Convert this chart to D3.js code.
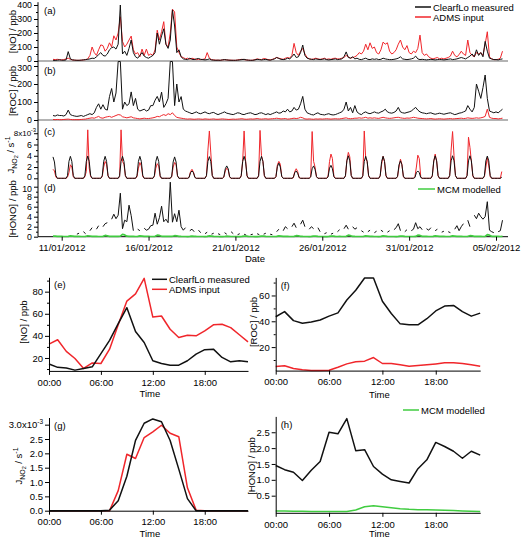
<!DOCTYPE html>
<html>
<head>
<meta charset="utf-8">
<script src="https://cdn.jsdelivr.net/npm/d3@7/dist/d3.min.js"></script>
<style>
html,body{margin:0;padding:0;background:#fff;}
svg{display:block;}
text{font-family:"Liberation Sans",Arial,Helvetica,sans-serif;font-size:9.5px;fill:#000;}
.topax text{font-size:8.8px;}
</style>
</head>
<body>
<svg id="chart" width="521" height="538"></svg>
<script>
// ---------------- DATA ----------------
// Time series: first sample 10/01/2012 12:00, 3-hourly (NO, ROC, HONO) or 2-hourly (J)
const noMeasured = [
 5,4,6,8,
 6,5,8,67,15,8,6,5,
 5,6,8,10,12,15,20,18,
 30,45,60,40,35,50,80,95,
 100,85,120,400,50,70,40,90,
 150,60,30,20,40,60,35,25,
 20,30,40,60,200,120,180,230,
 120,90,150,365,250,60,80,30,
 15,12,10,20,12,10,15,18,
 12,10,8,10,15,8,6,5,
 6,5,8,10,8,6,5,5,
 5,6,8,10,12,8,6,5,
 5,8,12,10,8,10,12,8,
 6,10,15,25,18,12,10,12,
 20,15,30,50,25,30,60,114,
 40,20,15,12,10,15,12,10,
 12,15,10,8,10,12,15,10,
 12,15,30,65,25,20,30,15,
 20,12,10,15,20,12,10,15,
 12,15,10,12,20,15,12,10,
 10,12,15,20,30,15,12,10,
 12,15,20,35,15,10,12,10,
 8,10,12,10,8,10,12,10,
 8,10,12,15,10,12,15,20,
 25,20,15,25,35,50,30,80,
 40,60,30,140,70,20,15,10,
 10,8,12,15
];
const noADMS = [
 12,10,12,10,
 8,10,15,20,12,8,6,5,
 5,6,8,10,15,40,100,60,
 40,80,115,110,70,90,130,100,
 180,150,200,316,140,100,120,150,
 178,80,50,60,30,85,40,85,
 40,50,40,80,220,150,210,281,
 120,100,200,370,350,100,60,30,
 25,15,20,12,20,15,10,12,
 10,12,15,60,20,10,8,6,
 6,5,8,10,8,6,6,5,
 5,8,10,12,10,8,6,5,
 6,10,15,12,10,18,15,10,
 8,12,18,25,20,15,12,20,
 25,20,40,126,60,40,70,90,
 50,25,15,12,15,20,15,12,
 15,20,12,15,12,18,20,15,
 15,20,25,40,30,20,25,30,
 40,60,50,70,120,80,130,90,
 100,60,50,80,135,120,130,70,
 50,60,80,120,150,100,80,110,
 60,50,70,60,90,185,60,40,
 50,30,20,15,20,25,15,20,
 15,20,25,35,70,40,30,45,
 70,50,40,150,60,40,30,60,
 50,60,40,120,209,30,15,10,
 10,12,20,70
];
const rocMeasured = [
 25,22,28,25,
 25,22,30,55,30,25,22,20,
 22,25,20,25,30,35,30,40,
 70,90,60,85,60,55,130,175,
 100,150,325,325,60,100,80,90,
 156,80,120,60,50,55,60,50,
 55,80,80,110,131,100,155,70,
 90,120,325,325,80,200,100,130,
 60,50,45,40,35,40,45,38,
 35,40,45,38,35,40,42,35,
 30,35,40,45,38,35,32,30,
 35,40,38,32,30,35,38,40,
 35,30,32,38,40,35,30,35,
 30,35,40,45,38,40,50,45,
 60,45,50,70,55,60,90,131,
 60,40,35,30,28,35,40,32,
 30,28,32,35,30,28,30,35,
 40,45,60,100,50,70,40,80,
 45,35,30,40,45,38,35,40,
 45,40,38,45,50,60,45,40,
 38,42,50,70,45,40,38,42,
 45,50,60,70,55,45,40,38,
 35,38,40,35,32,35,38,35,
 32,35,38,40,35,30,33,38,
 40,45,50,80,60,45,70,200,
 160,120,180,250,120,50,45,40,
 45,40,50,60
];
const rocADMS = [
 3,2,3,2,
 2,3,4,5,3,2,2,2,
 2,3,4,5,8,10,12,10,
 15,20,12,10,15,18,20,15,
 20,25,30,28,18,15,12,15,
 18,12,10,8,6,8,10,8,
 8,10,12,15,20,18,25,30,
 25,35,30,40,25,15,12,10,
 8,6,5,6,5,4,5,6,
 5,4,6,5,4,5,6,4,
 4,5,6,5,4,3,4,5,
 4,5,6,7,5,4,5,6,
 5,6,8,6,5,6,7,5,
 6,7,8,10,8,6,7,8,
 5,6,8,10,8,10,15,12,
 6,5,6,5,4,6,5,6,
 5,6,7,6,5,6,7,6,
 6,8,10,12,8,7,8,10,
 10,12,10,12,15,10,12,10,
 12,10,9,12,15,12,10,9,
 10,12,14,15,12,10,9,11,
 10,12,15,13,10,9,8,7,
 6,7,8,6,5,6,7,6,
 5,6,7,8,6,7,8,9,
 10,8,9,12,10,9,10,12,
 10,12,15,20,60,15,10,8,
 8,6,8,10
];
// J(NO2) in units of 1e-3 s^-1, 2-hourly
const jMeasured = [
 3.8,2.9,0.5,0,0,0,
 0,0,0,0,0.45,3.0,3.9,3.0,0.5,0,0,0,
 0,0,0,0,0.45,3.0,3.95,3.0,0.5,0,0,0,
 0,0,0,0,0.45,3.0,3.9,3.0,0.5,0,0,0,
 0,0,0,0,0.45,3.0,3.9,3.0,0.5,0,0,0,
 0,0,0,0,0.45,3.0,3.9,3.0,0.5,0,0,0,
 0,0,0,0,0.45,3.0,3.9,3.0,0.5,0,0,0,
 0,0,0,0,0.4,2.9,3.8,2.9,0.45,0,0,0,
 0,0,0,0,0.15,1.0,1.3,1.0,0.15,0,0,0,
 0,0,0,0,0.45,3.0,3.85,3.0,0.5,0,0,0,
 0,0,0,0,0.25,1.7,2.2,1.7,0.3,0,0,0,
 0,0,0,0,0.45,3.0,3.9,3.0,0.5,0,0,0,
 0,0,0,0,0.45,3.0,3.9,3.0,0.5,0,0,0,
 0,0,0,0,0.3,2.1,2.7,2.0,0.35,0,0,0,
 0,0,0,0,0.15,1.0,1.3,0.9,0.15,0,0,0,
 0,0,0,0,0.25,1.7,2.2,1.6,0.3,0,0,0,
 0,0,0,0,0.25,1.8,2.3,1.7,0.3,0,0,0,
 0,0,0,0,0.45,3.1,4.0,3.1,0.5,0,0,0,
 0,0,0,0,0.45,3.0,3.9,3.0,0.5,0,0,0,
 0,0,0,0,0.45,3.0,3.9,3.0,0.5,0,0,0,
 0,0,0,0,0.35,2.4,3.1,2.4,0.4,0,0,0,
 0,0,0,0,0.15,1.0,1.3,1.0,0.15,0,0,0,
 0,0,0,0,0.45,3.1,4.0,3.1,0.5,0,0,0,
 0,0,0,0,0.45,3.1,4.0,3.1,0.5,0,0,0,
 0,0,0,0,0.45,3.1,4.0,3.1,0.5,0,0,0,
 0,0,0,0,0.45,3.1,3.95,3.1,0.5,0,0,0,
 0,0,0,0,0.2
];
const jADMS = [
 1.6,1.3,0.2,0,0,0,
 0,0,0,0,0.2,1.0,2.4,2.0,0.3,0,0,0,
 0,0,0,0,0.3,1.2,8.6,1.8,0.3,0,0,0,
 0,0,0,0,0.3,2.0,3.0,2.5,0.4,0,0,0,
 0,0,0,0,0.3,8.6,3.0,2.5,0.4,0,0,0,
 0,0,0,0,0.3,1.8,2.8,2.2,0.3,0,0,0,
 0,0,0,0,0.3,1.8,2.6,2.2,0.3,0,0,0,
 0,0,0,0,0.3,2.0,2.8,2.4,0.4,0,0,0,
 0,0,0,0,0.2,1.2,1.6,1.1,0.2,0,0,0,
 0,0,0,0,0.5,5.0,8.4,4.5,0.5,0,0,0,
 0,0,0,0,0.2,1.3,1.8,1.5,0.2,0,0,0,
 0,0,0,0,0.4,3.0,8.4,3.2,0.4,0,0,0,
 0,0,0,0,0.4,8.5,4.0,3.0,0.4,0,0,0,
 0,0,0,0,0.3,2.4,3.0,2.5,0.3,0,0,0,
 0,0,0,0,0.1,1.2,1.7,1.2,0.1,0,0,0,
 0,0,0,0,0.3,8.3,3.0,2.0,0.3,0,0,0,
 0,0,0,0,0.4,3.0,4.3,3.5,0.4,0,0,0,
 0,0,0,0,0.4,3.2,4.6,3.8,0.5,0,0,0,
 0,0,0,0,0.4,8.4,3.5,3.0,0.4,0,0,0,
 0,0,0,0,0.4,2.5,3.9,3.0,0.4,0,0,0,
 0,0,0,0,0.3,2.0,3.4,2.5,0.3,0,0,0,
 0,0,0,0,0.3,2.0,4.1,3.5,0.3,0,0,0,
 0,0,0,0,0.4,3.0,4.3,3.0,0.4,0,0,0,
 0,0,0,0,0.5,5.0,8.3,4.0,0.5,0,0,0,
 0,0,0,0,0.5,7.3,5.5,3.0,0.4,0,0,0,
 0,0,0,0,0.3,2.0,3.7,2.2,0.3,0,0,0,
 0,0,0,0,1.2
];
const honoMeasured = [
 null,null,null,null,
 null,null,null,null,null,null,null,0.5,
 0.7,null,1.0,0.6,null,1.2,1.8,null,
 1.5,2.2,null,2.0,2.6,2.8,null,3.5,
 4.5,3.6,4.3,8.7,1.6,3.3,3.0,6.3,
 4.2,1.2,null,1.5,1.2,null,1.7,1.3,
 1.5,2.2,2.3,4.7,2.5,3.8,6.1,3.0,
 3.5,2.8,10.9,2.9,4.6,3.0,5.3,2.0,
 1.3,1.8,null,1.2,1.5,1.0,null,1.3,
 0.8,null,0.6,0.9,null,0.5,0.7,null,
 0.6,0.4,null,0.8,0.5,null,1.0,0.6,
 null,0.4,0.6,null,0.5,0.3,null,0.4,
 0.5,null,0.6,0.4,null,0.5,0.7,null,
 0.5,0.4,null,1.0,1.5,null,1.2,2.0,
 1.6,null,2.0,2.7,1.8,null,2.5,3.3,
 2.0,null,1.5,2.0,1.6,null,1.8,1.0,
 null,0.6,0.8,null,0.5,0.7,null,1.0,
 1.4,null,1.6,2.3,1.5,null,2.0,1.5,
 1.8,null,1.2,0.9,null,1.0,1.3,null,
 0.8,1.1,null,1.3,1.0,null,0.9,1.2,
 null,1.4,1.8,2.6,1.2,null,1.0,1.4,
 null,1.2,1.5,2.8,1.6,2.0,1.4,null,
 1.6,1.3,1.8,null,1.2,1.5,null,0.9,
 1.1,null,1.0,0.8,null,1.5,2.2,1.2,
 2.0,2.6,null,3.3,2.0,null,4.3,3.6,
 4.7,4.0,3.5,4.0,7.0,1.3,1.0,0.8,
 null,1.0,1.2,3.3
];
const honoMCM = [
 0.12,0.1,0.06,0.05,
 0.05,0.04,0.04,0.06,0.15,0.12,0.07,0.06,
 0.05,0.04,0.04,0.06,0.18,0.14,0.07,0.06,
 0.05,0.04,0.04,0.07,0.25,0.18,0.08,0.06,
 0.05,0.05,0.05,0.1,0.45,0.35,0.1,0.07,
 0.06,0.05,0.04,0.06,0.15,0.12,0.06,0.05,
 0.05,0.04,0.04,0.08,0.3,0.25,0.08,0.06,
 0.06,0.05,0.05,0.08,0.2,0.15,0.07,0.05,
 0.04,0.04,0.03,0.05,0.1,0.08,0.05,0.04,
 0.04,0.04,0.03,0.05,0.15,0.1,0.05,0.04,
 0.04,0.03,0.03,0.04,0.1,0.08,0.04,0.04,
 0.04,0.03,0.03,0.05,0.12,0.1,0.05,0.04,
 0.04,0.03,0.03,0.05,0.12,0.1,0.05,0.04,
 0.04,0.04,0.04,0.05,0.15,0.12,0.06,0.05,
 0.05,0.04,0.04,0.06,0.2,0.15,0.07,0.05,
 0.04,0.04,0.03,0.05,0.12,0.1,0.05,0.04,
 0.04,0.03,0.03,0.05,0.12,0.1,0.05,0.04,
 0.05,0.04,0.04,0.07,0.3,0.2,0.07,0.05,
 0.04,0.04,0.04,0.05,0.15,0.12,0.06,0.05,
 0.04,0.04,0.03,0.05,0.15,0.12,0.05,0.04,
 0.04,0.04,0.03,0.05,0.12,0.1,0.05,0.04,
 0.04,0.04,0.04,0.06,0.3,0.25,0.07,0.05,
 0.05,0.04,0.04,0.05,0.15,0.12,0.06,0.05,
 0.05,0.04,0.04,0.05,0.15,0.12,0.06,0.05,
 0.05,0.04,0.04,0.06,0.2,0.15,0.07,0.05,
 0.05,0.05,0.04,0.07,0.4,0.3,0.08,0.06,
 0.05,0.05,0.04,0.06
];
const dateTickLabels = ["2012-01-11","2012-01-16","2012-01-21","2012-01-26","2012-01-31","2012-02-05"];

// Mean diurnal profiles, hour of day
const hours = [0,1,2,3,4,5,6,7,8,9,10,11,12,13,14,15,16,17,18,19,20,21,22,23];
const hourTicks = [0,6,12,18];
const hourTickLabels = ["00:00","06:00","12:00","18:00"];
const noMeasuredDiurnal = [14.5,11.5,11,9,10.5,12,24,36,51,65.5,44,34,17.5,15,13.5,13.5,17.5,23.5,27.5,28,20.5,16.5,17.5,16.5];
const noADMSDiurnal = [32.5,36.5,26,19.5,10.5,15.5,15,28,50,71.5,78,92,57,58,46,38.5,40.5,40,44.5,50,50.5,47.5,41,34.5];
const rocMeasuredDiurnal = [43.5,47.5,40.5,38.5,39.5,41,44,46.5,56.5,64,73.5,73.5,55.5,46,38,37.3,37.3,42,48,51.8,52.3,47.5,44,46.3];
const rocADMSDiurnal = [5,5.5,3.4,2.4,1.9,1.9,2.1,4.4,7,8.6,9.1,11.9,7.3,7.3,6.3,5.2,5.7,6.3,7,7.8,7.8,7.3,6.3,5.2];
const jMeasuredDiurnal = [0,0,0,0,0,0,0,0.02,0.35,1.2,2.45,3.05,3.2,3.1,2.45,1.45,0.42,0,0,0,0,0,0,0];
const jADMSDiurnal = [0,0,0,0,0,0,0,0,0.7,1.97,1.82,2.55,2.75,2.98,2.7,2.58,0.8,0.02,0,0,0,0,0,0];
const honoMeasuredDiurnal = [1.45,1.32,1.24,0.98,1.3,1.58,2.5,2.45,2.93,1.92,1.95,1.42,1.18,1.0,0.95,0.9,1.35,1.63,2.18,2.05,1.9,1.68,1.9,1.78];
const honoMCMDiurnal = [0.02,0.02,0.01,0.01,0,0,0,0,0,0.05,0.15,0.18,0.15,0.12,0.09,0.07,0.06,0.06,0.05,0.04,0.03,0.02,0.01,0];

// ---------------- DRAWING ----------------
const RED = '#f0262b', BLACK = '#111', GREEN = '#40cc40', GREY = '#9a9a9a';
const svg = d3.select('#chart');
const START = Date.UTC(2012,0,10,12);
const stamp = (arr, step) => arr.map((v,i)=>({t:new Date(START + i*step*3600000), v}));

const X0 = 38, X1 = 508;
const xBase = d3.scaleUtc().domain([new Date(Date.UTC(2012,0,11)), new Date(Date.UTC(2012,1,5))]).range([61.7, 496]);
const xTime = d3.scaleUtc().domain([xBase.invert(X0), xBase.invert(X1)]).range([X0, X1]);

function cleanAxis(g){ g.attr('font-size',null).attr('font-family',null); }

const panels = [
 {y:d3.scaleLinear().domain([0,420]).range([61,2.2]), major:[0,100,200,300,400], minor:[50,150,250,350], zero:true, tag:'(a)', tagY:14,
  shift:{0:-2},
  series:[{d:stamp(noADMS,3),c:RED},{d:stamp(noMeasured,3),c:BLACK}]},
 {y:d3.scaleLinear().domain([0,325]).range([120,61.5]), major:[0,100,200,300], minor:[50,150,250], zero:true, tag:'(b)', tagY:73.5,
  shift:{300:1.5},
  series:[{d:stamp(rocMeasured,3),c:BLACK},{d:stamp(rocADMS,3),c:RED}]},
 {y:d3.scaleLinear().domain([0,9]).range([178.3,127.6]), major:[0,2,4,6,8], minor:[1,3,5,7], zero:false, tag:'(c)', tagY:134.5, sci:8,
  shift:{0:-1.5},
  series:[{d:stamp(jADMS,2),c:RED},{d:stamp(jMeasured,2),c:BLACK}]},
 {y:d3.scaleLinear().domain([0,11]).range([236.7,181.7]), major:[0,2,4,6,8,10], minor:[1,3,5,7,9], zero:false, tag:'(d)', tagY:191,
  shift:{10:1.5},
  series:[{d:stamp(honoMeasured,3),c:BLACK},{d:stamp(honoMCM,3),c:GREEN,w:1.7}]}
];

// bottom axis line for the stacked panels
svg.append('line').attr('x1',X0).attr('x2',X1).attr('y1',236.7).attr('y2',236.7).attr('stroke','#000').attr('stroke-width',1);

panels.forEach(p=>{
  const g = svg.append('g');
  if(p.zero){
    g.append('line').attr('x1',X0).attr('x2',X1).attr('y1',p.y(0)).attr('y2',p.y(0)).attr('stroke',GREY).attr('stroke-width',1.5);
  }
  p.series.forEach(s=>{
    const line = d3.line().defined(d=>d.v!=null).x(d=>xTime(d.t)).y(d=>p.y(d.v));
    g.append('path').datum(s.d).attr('d',line).attr('fill','none').attr('stroke',s.c).attr('stroke-width',s.w||1).attr('stroke-linejoin','round');
  });
  g.append('g').attr('transform',`translate(${X0},0)`)
    .call(d3.axisLeft(p.y).tickValues(p.minor).tickSize(2).tickFormat(''))
    .call(a=>a.select('.domain').remove()).call(cleanAxis);
  const ax = g.append('g').attr('class','topax').attr('transform',`translate(${X0},0)`)
    .call(d3.axisLeft(p.y).tickValues(p.major).tickSize(4).tickPadding(2))
    .call(a=>a.select('.domain').remove()).call(cleanAxis);
  if(p.shift){
    ax.selectAll('.tick').filter(d=>p.shift[d]!=null).select('text').attr('y',d=>p.shift[d]);
  }
  if(p.sci!=null){
    ax.selectAll('.tick').filter(d=>d===p.sci).select('text').each(function(){
      const t = d3.select(this); t.text('').attr('x',-2).style('font-size','8px');
      t.append('tspan').text(p.sci+'x10');
      t.append('tspan').attr('dy',-4).attr('dx',-0.5).attr('font-size','6px').text('-3');
    });
  }
  svg.append('text').attr('x',44).attr('y',p.tagY).text(p.tag);
});
// continuous left axis
svg.append('line').attr('x1',X0).attr('x2',X0).attr('y1',2.2).attr('y2',236.7).attr('stroke','#000');

// date axis
svg.append('g').attr('transform','translate(0,236.7)')
  .call(d3.axisBottom(xTime).tickValues(dateTickLabels.map(s=>new Date(s+'T00:00:00Z'))).tickSize(4).tickPadding(4).tickFormat(d3.utcFormat('%d/%m/%Y')))
  .call(a=>a.select('.domain').remove()).call(cleanAxis);
svg.append('text').attr('x',255).attr('y',262).attr('text-anchor','middle').text('Date');

// y titles (top stack)
function vtitle(x,y,txt){ return svg.append('text').attr('transform',`translate(${x},${y}) rotate(-90)`).attr('text-anchor','middle').text(txt); }
vtitle(16,31.5,'[NO] / ppb');
vtitle(16,91,'[ROC] / ppb');
function jTitle(x,y){
  const t = svg.append('text').attr('transform',`translate(${x},${y}) rotate(-90)`).attr('text-anchor','middle');
  t.append('tspan').text('J');
  t.append('tspan').attr('dy',2.5).attr('font-size','7px').text('NO');
  t.append('tspan').attr('dy',1.5).attr('font-size','5.5px').text('2');
  t.append('tspan').attr('dy',-4).text(' / s');
  t.append('tspan').attr('dy',-4).attr('font-size','7px').text('-1');
}
jTitle(14,155);
vtitle(16,209,'[HONO] / ppb');

// legends
function legend(x1,x2,y,color,label){
  svg.append('line').attr('x1',x1).attr('x2',x2).attr('y1',y).attr('y2',y).attr('stroke',color).attr('stroke-width',1.5);
  svg.append('text').attr('x',x2+2).attr('y',y+3.5).text(label);
}
legend(415,431,7,BLACK,'ClearfLo measured');
legend(415,431,17,RED,'ADMS input');
legend(418,435,189,GREEN,'MCM modelled');

// ---------- diurnal panels ----------
function diurnal(o){
  const g = svg.append('g');
  const x = d3.scaleLinear().domain([0,23]).range(o.xr);
  const y = d3.scaleLinear().domain(o.yd).range(o.yr);
  o.series.forEach(s=>{
    const line = d3.line().x((d,i)=>x(hours[i])).y(d=>y(d));
    g.append('path').datum(s.d).attr('d',line).attr('fill','none').attr('stroke',s.c).attr('stroke-width',1.5).attr('stroke-linejoin','round');
  });
  if(o.minor){
    g.append('g').attr('transform',`translate(${o.xr[0]},0)`)
      .call(d3.axisLeft(y).tickValues(o.minor).tickSize(2).tickFormat(''))
      .call(a=>a.select('.domain').remove()).call(cleanAxis);
  }
  const ay = g.append('g').attr('transform',`translate(${o.xr[0]},0)`)
    .call(d3.axisLeft(y).tickValues(o.major).tickSize(4).tickPadding(2).tickSizeOuter(0).tickFormat(o.fmt))
    .call(cleanAxis);
  if(o.sci!=null){
    ay.selectAll('.tick').filter(d=>d===o.sci).select('text').each(function(){
      const t = d3.select(this); t.text('');
      t.append('tspan').text(d3.format('.1f')(o.sci)+'x10');
      t.append('tspan').attr('dy',-4).attr('font-size','6.5px').text('-3');
    });
  }
  g.append('g').attr('transform',`translate(0,${o.yr[0]})`)
    .call(d3.axisBottom(x).tickValues(hourTicks).tickSize(4).tickPadding(4).tickSizeOuter(0).tickFormat((d,i)=>hourTickLabels[i]))
    .call(cleanAxis);
  svg.append('text').attr('x',x(12)-3).attr('y',o.timeY).attr('text-anchor','middle').text('Time');
  svg.append('text').attr('x',o.xr[0]+5).attr('y',o.tagY).text(o.tag);
}

diurnal({xr:[49,248], yd:[8.3,93], yr:[370.9,277.3], major:[20,40,60,80], minor:[10,30,50,70,90], fmt:d3.format('d'),
  series:[{d:noADMSDiurnal,c:RED},{d:noMeasuredDiurnal,c:BLACK}], timeY:397, tag:'(e)', tagY:287.5});
diurnal({xr:[275.7,480.2], yd:[1.8,74], yr:[370.6,277.4], major:[20,40,60], minor:[10,30,50,70], fmt:d3.format('d'),
  series:[{d:rocADMSDiurnal,c:RED},{d:rocMeasuredDiurnal,c:BLACK}], timeY:398, tag:'(f)', tagY:288.5});
diurnal({xr:[49,248], yd:[0,3.25], yr:[510.7,417.5], major:[0,0.5,1,1.5,2,2.5,3], fmt:d3.format('.1f'), sci:3,
  series:[{d:jADMSDiurnal,c:RED},{d:jMeasuredDiurnal,c:BLACK}], timeY:537, tag:'(g)', tagY:428.5});
diurnal({xr:[275.7,480.2], yd:[-0.04,3.0], yr:[512.8,416.4], major:[0.5,1,1.5,2,2.5], fmt:d3.format('.1f'),
  series:[{d:honoMeasuredDiurnal,c:BLACK},{d:honoMCMDiurnal,c:GREEN}], timeY:537, tag:'(h)', tagY:427.5});

// diurnal titles
vtitle(27,322,'[NO] / ppb');
vtitle(257,322,'[ROC] / ppb');
jTitle(22,466);
vtitle(255,466,'[HONO] / ppb');

// diurnal legends
legend(152,167,279.3,BLACK,'ClearfLo measured');
legend(152,167,289.3,RED,'ADMS input');
legend(403,419,410,GREEN,'MCM modelled');
</script>
</body>
</html>
